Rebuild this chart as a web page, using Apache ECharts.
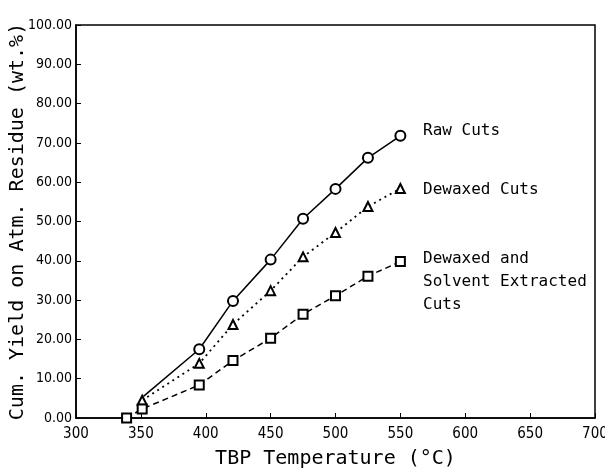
<!DOCTYPE html>
<html>
<head>
<meta charset="utf-8">
<script src="https://cdn.jsdelivr.net/npm/echarts@6/dist/echarts.min.js"></script>
<style>html,body{margin:0;padding:0;background:#fff}#c{width:605px;height:468px}</style>
</head>
<body>
<div id="c"></div>
<script>
// Data
var rawX = [352, 395, 421, 450, 475, 500, 525, 550];
var rawY = [5.5, 17.5, 29.8, 40.3, 50.7, 58.3, 66.2, 71.8];
var dewX = [351, 395, 421, 450, 475, 500, 525, 550];
var dewY = [4.5, 13.9, 23.8, 32.4, 41.0, 47.2, 53.8, 58.4];
var solX = [339, 351, 395, 421, 450, 475, 500, 525, 550];
var solY = [0, 2.3, 8.4, 14.6, 20.3, 26.4, 31.1, 36.1, 39.8];
var seriesNames = ['Raw Cuts', 'Dewaxed Cuts', 'Dewaxed and\nSolvent Extracted\nCuts'];
var xTitle = 'TBP Temperature (\u00B0C)';
var yTitle = 'Cum. Yield on Atm. Residue (wt.%)';

function pairs(xs, ys) { return xs.map(function (x, i) { return [x, ys[i]]; }); }

var tickFont = '"DejaVu Sans Condensed", "Liberation Sans Narrow", "Liberation Sans", sans-serif';
var mono = '"DejaVu Sans Mono", "Liberation Mono", monospace';

var chart = echarts.init(document.getElementById('c'), null, {renderer: 'canvas'});
var rawData = pairs(rawX, rawY);
rawData[0] = {value: rawData[0], symbol: 'none'};
chart.setOption({
  animation: false,
  backgroundColor: '#fff',
  grid: {left: 76, right: 10, top: 25, bottom: 50, containLabel: false, outerBoundsMode: 'none',
         show: true, borderColor: '#000', borderWidth: 1.5, backgroundColor: 'transparent'},
  xAxis: {
    type: 'value', min: 300, max: 700, interval: 50,
    name: xTitle, nameLocation: 'middle', nameGap: 31, nameMoveOverlap: false,
    nameTextStyle: {fontFamily: mono, fontSize: 20, color: '#000'},
    axisLine: {lineStyle: {color: '#000', width: 1.5}},
    axisTick: {inside: true, length: 5, lineStyle: {color: '#000'}},
    axisLabel: {fontFamily: tickFont, fontSize: 15, color: '#000', margin: 9},
    splitLine: {show: false}
  },
  yAxis: {
    type: 'value', min: 0, max: 100, interval: 10,
    name: yTitle, nameLocation: 'middle', nameGap: 48, nameMoveOverlap: false,
    nameTextStyle: {fontFamily: mono, fontSize: 20, color: '#000'},
    axisLine: {lineStyle: {color: '#000', width: 1.5}},
    axisTick: {inside: true, length: 5, lineStyle: {color: '#000'}},
    axisLabel: {fontFamily: tickFont, fontSize: 14, color: '#000', margin: 4,
      formatter: function (v) { return v.toFixed(2); }},
    splitLine: {show: false}
  },
  series: [
    {name: seriesNames[0], type: 'line', data: rawData, symbol: 'emptyCircle', symbolSize: 10,
     itemStyle: {color: '#000', borderWidth: 1.5}, lineStyle: {color: '#000', width: 1.5, type: 'solid'}},
    {name: seriesNames[1], type: 'line', data: pairs(dewX, dewY), symbol: 'emptyTriangle', symbolSize: 9,
     itemStyle: {color: '#000', borderWidth: 1.5}, lineStyle: {color: '#000', width: 1.8, type: [2, 4]}},
    {name: seriesNames[2], type: 'line', data: pairs(solX, solY), symbol: 'emptyRect', symbolSize: 9,
     itemStyle: {color: '#000', borderWidth: 1.5}, lineStyle: {color: '#000', width: 1.5, type: [6, 4]}}
  ],
  graphic: [
    {type: 'text', left: 423, top: 123, style: {text: seriesNames[0], font: '16px ' + mono, fill: '#000'}},
    {type: 'text', left: 423, top: 182, style: {text: seriesNames[1], font: '16px ' + mono, fill: '#000'}},
    {type: 'text', left: 423, top: 247, style: {text: seriesNames[2], font: '16px ' + mono, fill: '#000', lineHeight: 23}}
  ]
});
</script>
</body>
</html>
